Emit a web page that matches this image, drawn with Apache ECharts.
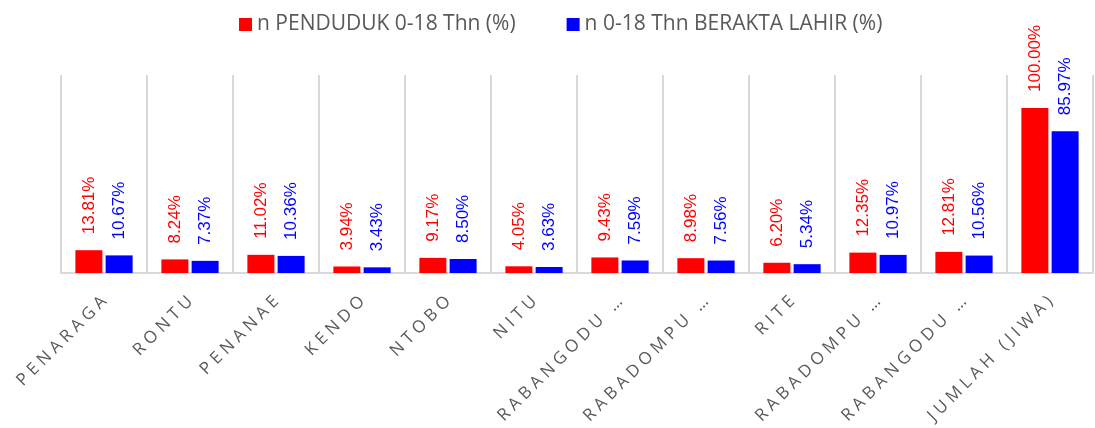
<!DOCTYPE html>
<html>
<head>
<meta charset="utf-8">
<script src="https://cdn.jsdelivr.net/npm/echarts@6/dist/echarts.min.js"></script>
<style>
  html, body { margin: 0; padding: 0; background: #fff; }
  #chart { width: 1095px; height: 428px; }
</style>
</head>
<body>
<div id="chart"></div>
<script>
var categories = ["PENARAGA", "RONTU", "PENANAE", "KENDO", "NTOBO", "NITU",
  "RABANGODU …", "RABADOMPU …", "RITE", "RABADOMPU …", "RABANGODU …", "JUMLAH (JIWA)"];
var seriesNames = ["n PENDUDUK 0-18 Thn (%)", "n 0-18 Thn BERAKTA LAHIR (%)"];
var penduduk = [13.81, 8.24, 11.02, 3.94, 9.17, 4.05, 9.43, 8.98, 6.20, 12.35, 12.81, 100.00];
var aktaLahir = [10.67, 7.37, 10.36, 3.43, 8.50, 3.63, 7.59, 7.56, 5.34, 10.97, 10.56, 85.97];

var myChart = echarts.init(document.getElementById("chart"));

function barLabel(color) {
  return {
    show: true,
    position: "top",
    rotate: 90,
    align: "left",
    verticalAlign: "middle",
    distance: 16,
    color: color,
    fontSize: 17,
    fontFamily: "Liberation Sans",
    formatter: function (p) { return p.value.toFixed(2) + "%"; }
  };
}

// spaced-out caps like the original axis labels
function spaced(s) {
  return s.split("").join("\u2009\u200A");
}

var option = {
  animation: false,
  legend: {
    top: 9,
    left: 234,
    itemWidth: 13,
    itemHeight: 13,
    itemGap: 51,
    icon: "rect",
    textStyle: { color: "#595959", fontSize: 21, fontFamily: "Open Sans" },
    data: seriesNames
  },
  grid: { left: 61, right: 2, top: 75, bottom: 155, outerBoundsMode: "none" },
  xAxis: {
    type: "category",
    data: categories,
    axisTick: { show: false },
    axisLine: { lineStyle: { color: "#d9d9d9", width: 2 } },
    splitLine: { show: true, lineStyle: { color: "#d9d9d9", width: 2 } },
    axisLabel: {
      interval: 0,
      rotate: 45,
      margin: 26,
      color: "#595959",
      fontSize: 17,
      fontFamily: "Open Sans",
      formatter: spaced
    }
  },
  yAxis: {
    type: "value",
    min: 0,
    max: 120,
    show: false,
    splitLine: { show: false }
  },
  series: [
    {
      name: seriesNames[0],
      type: "bar",
      data: penduduk,
      barWidth: 27,
      barGap: "12%",
      itemStyle: { color: "#ff0000" },
      label: barLabel("#ff0000")
    },
    {
      name: seriesNames[1],
      type: "bar",
      data: aktaLahir,
      barWidth: 27,
      itemStyle: { color: "#0000ff" },
      label: barLabel("#0000ff")
    }
  ]
};

myChart.setOption(option);
</script>
</body>
</html>
